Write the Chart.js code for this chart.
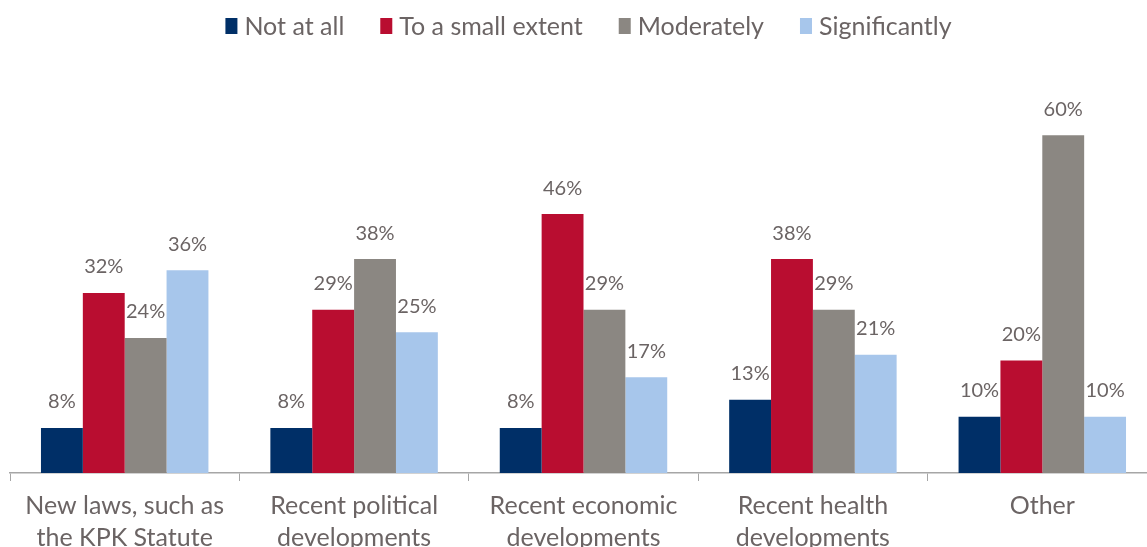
<!DOCTYPE html>
<html>
<head>
<meta charset="utf-8">
<script src="https://cdn.jsdelivr.net/npm/chart.js@4"></script>
<style>
  html, body { margin: 0; padding: 0; background: #fff; overflow: hidden; }
  #wrap { position: absolute; left: 0; top: 0; width: 1167px; height: 563px; }
</style>
</head>
<body>
<div id="wrap"><canvas id="chart"></canvas></div>
<script>
const categories = [
    ['New laws, such as', 'the KPK Statute'],
    ['Recent political', 'developments'],
    ['Recent economic', 'developments'],
    ['Recent health', 'developments'],
    'Other'
];
const notAtAll = [8, 8, 8, 13, 10];
const smallExtent = [32, 29, 46, 38, 20];
const moderately = [24, 38, 29, 29, 60];
const significantly = [36, 25, 17, 21, 10];

const seriesNames = ['Not at all', 'To a small extent', 'Moderately', 'Significantly'];
const seriesColors = ['#002f67', '#b90d30', '#8b8782', '#a7c6eb'];
const textColor = '#6b6464';
const fontFamily = 'Lato, "Open Sans", sans-serif';

// percentage labels above each bar
const valueLabels = {
    id: 'valueLabels',
    afterDatasetsDraw(chart) {
        const ctx = chart.ctx;
        ctx.save();
        ctx.font = '20px ' + fontFamily;
        ctx.fillStyle = textColor;
        ctx.textAlign = 'center';
        ctx.textBaseline = 'bottom';
        chart.data.datasets.forEach((ds, i) => {
            chart.getDatasetMeta(i).data.forEach((bar, j) => {
                ctx.fillText(ds.data[j] + '%', bar.x, bar.y - 16);
            });
        });
        ctx.restore();
    }
};

// single-row legend across the top
const topLegend = {
    id: 'topLegend',
    afterDraw(chart) {
        const ctx = chart.ctx;
        const boxW = 12, boxH = 16, gap = 7, spacing = 36, y = 26;
        ctx.save();
        ctx.font = '25px ' + fontFamily;
        ctx.textBaseline = 'middle';
        ctx.textAlign = 'left';
        const widths = chart.data.datasets.map(ds => ctx.measureText(ds.label).width);
        const total = widths.reduce((a, w) => a + boxW + gap + w, 0) + spacing * (widths.length - 1);
        let x = (chart.chartArea.left + chart.chartArea.right) / 2 + 5 - total / 2;
        chart.data.datasets.forEach((ds, i) => {
            ctx.fillStyle = ds.backgroundColor;
            ctx.fillRect(x, y - boxH / 2, boxW, boxH);
            x += boxW + gap;
            ctx.fillStyle = textColor;
            ctx.fillText(ds.label, x, y + 1);
            x += widths[i] + spacing;
        });
        ctx.restore();
    }
};

const datasets = [notAtAll, smallExtent, moderately, significantly].map((vals, i) => ({
    label: seriesNames[i],
    data: vals,
    backgroundColor: seriesColors[i],
    categoryPercentage: 0.73,
    barPercentage: 1.0
}));

new Chart(document.getElementById('chart'), {
    type: 'bar',
    data: { labels: categories, datasets: datasets },
    plugins: [valueLabels, topLegend],
    options: {
        responsive: true,
        maintainAspectRatio: false,
        animation: false,
        layout: { padding: { left: 10, right: 10, top: 79, bottom: 0 } },
        plugins: {
            tooltip: { enabled: false },
            legend: { display: false }
        },
        scales: {
            x: {
                grid: {
                    offset: true,
                    drawOnChartArea: false,
                    drawTicks: true,
                    tickLength: 8,
                    color: '#a6a6a6'
                },
                border: { color: '#a6a6a6', width: 1.5 },
                ticks: {
                    color: textColor,
                    padding: 9,
                    maxRotation: 0,
                    autoSkip: false,
                    font: { family: fontFamily, size: 25, lineHeight: 1.28 }
                }
            },
            y: {
                display: false,
                min: 0,
                max: 70
            }
        }
    }
});
</script>
</body>
</html>
